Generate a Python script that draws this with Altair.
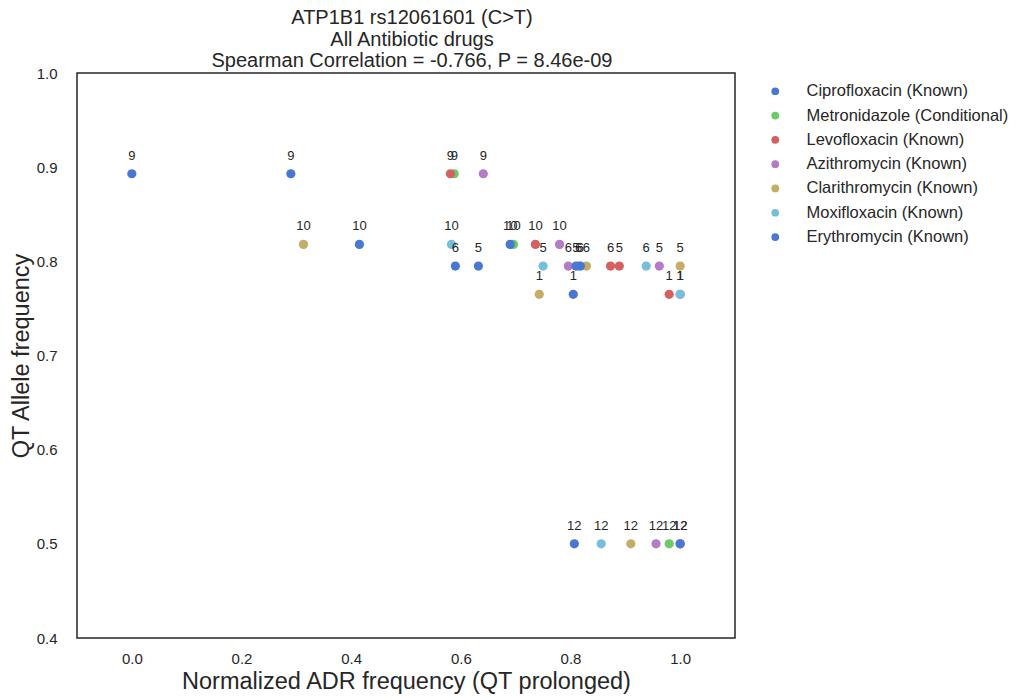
import altair as alt
import pandas as pd

drugs = [
    "Ciprofloxacin (Known)",
    "Metronidazole (Conditional)",
    "Levofloxacin (Known)",
    "Azithromycin (Known)",
    "Clarithromycin (Known)",
    "Moxifloxacin (Known)",
    "Erythromycin (Known)",
]
colors = ["#4878CF", "#6ACC65", "#D65F5F", "#B47CC7", "#C4AD66", "#77BEDB", "#4878CF"]

# population label -> QT allele frequency
pop_freq = {1: 0.765, 5: 0.795, 6: 0.795, 9: 0.893, 10: 0.818, 12: 0.5}

# per drug: population labels and normalized ADR frequency
cipro_pop = [9, 10, 6, 5, 1, 12]
cipro_x = [0.0, 0.415, 0.590, 0.632, 0.805, 0.807]
metro_pop = [9, 10, 6, 12]
metro_x = [0.588, 0.696, 0.815, 0.980]
levo_pop = [9, 10, 6, 5, 1, 12]
levo_x = [0.581, 0.736, 0.873, 0.889, 0.980, 1.0]
azith_pop = [9, 10, 6, 5, 1, 12]
azith_x = [0.641, 0.780, 0.796, 0.962, 1.0, 0.956]
clari_pop = [10, 6, 5, 1, 12]
clari_x = [0.313, 0.829, 1.0, 0.743, 0.910]
moxi_pop = [10, 6, 5, 1, 12]
moxi_x = [0.583, 0.938, 0.750, 1.0, 0.856]
eryth_pop = [9, 10, 6, 5, 12]
eryth_x = [0.290, 0.690, 0.818, 0.810, 1.0]

series = [
    (cipro_pop, cipro_x),
    (metro_pop, metro_x),
    (levo_pop, levo_x),
    (azith_pop, azith_x),
    (clari_pop, clari_x),
    (moxi_pop, moxi_x),
    (eryth_pop, eryth_x),
]

rows = []
for i, (drug, (pops, xs)) in enumerate(zip(drugs, series)):
    for p, x in zip(pops, xs):
        rows.append({"drug": drug, "order": i, "x": x, "y": pop_freq[p], "label": str(p)})
df = pd.DataFrame(rows)

FONT = "Liberation Sans"
TXT = "#262626"

xscale = alt.Scale(domain=[-0.1, 1.1], nice=False, zero=False)
yscale = alt.Scale(domain=[0.4, 1.0], nice=False, zero=False)

base = alt.Chart(df)

points = base.mark_circle(size=85, opacity=1).encode(
    x=alt.X("x:Q", scale=xscale,
            axis=alt.Axis(title="Normalized ADR frequency (QT prolonged)",
                          values=[0.0, 0.2, 0.4, 0.6, 0.8, 1.0], format=".1f")),
    y=alt.Y("y:Q", scale=yscale,
            axis=alt.Axis(title="QT Allele frequency",
                          values=[0.4, 0.5, 0.6, 0.7, 0.8, 0.9, 1.0], format=".1f")),
    color=alt.Color("drug:N", scale=alt.Scale(domain=drugs, range=colors),
                    legend=alt.Legend(title=None, orient="none", legendX=690, legendY=10,
                                      symbolType="circle", symbolSize=60,
                                      labelFontSize=16.5, labelFont=FONT, labelColor=TXT,
                                      labelOffset=23, rowPadding=7.3, padding=0,
                                      labelLimit=300)),
    order=alt.Order("order:Q"),
)

labels = base.mark_text(dy=-18, fontSize=13, font=FONT, color=TXT).encode(
    x=alt.X("x:Q", scale=xscale),
    y=alt.Y("y:Q", scale=yscale),
    text="label:N",
)

chart = (points + labels).properties(
    width=658,
    height=565,
    padding={"left": 77, "top": 73, "right": 283, "bottom": 62},
    autosize=alt.AutoSizeParams(type="none"),
    title=alt.TitleParams(
        text=["ATP1B1 rs12061601 (C>T)", "All Antibiotic drugs",
              "Spearman Correlation = -0.766, P = 8.46e-09"],
        fontSize=20, font=FONT, color=TXT, fontWeight="normal",
        anchor="middle", lineHeight=21.5, offset=-5, dx=6,
    ),
).configure_view(
    stroke=TXT, strokeWidth=1.5,
).configure_axis(
    grid=False, ticks=False, domain=False,
    labelFont=FONT, labelFontSize=15, labelColor=TXT,
    titleFont=FONT, titleFontSize=23.5, titleColor=TXT, titleFontWeight="normal",
).configure_axisX(labelPadding=13, titlePadding=3).configure_axisY(labelPadding=20, titlePadding=3)

chart.save("out.html", embed_options={"renderer": "svg", "actions": False})
